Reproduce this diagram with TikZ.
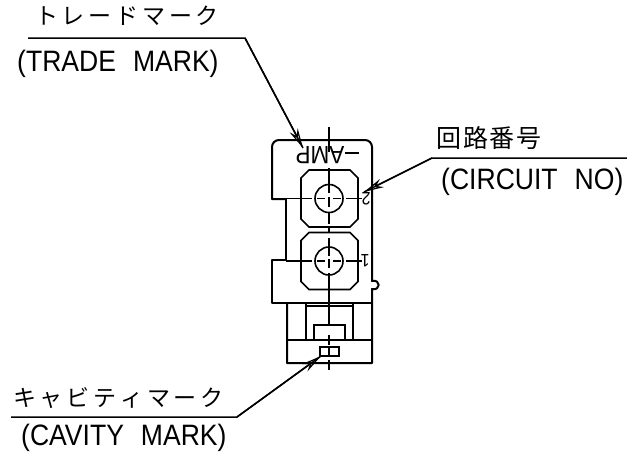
\documentclass[tikz,border=0pt]{standalone}
\usepackage{fontspec}
\setmainfont[FakeStretch=0.9]{Liberation Sans}
\newfontfamily\cjkf{Noto Sans CJK JP}
\usetikzlibrary{arrows.meta}
\newcommand{\jc}[1]{\makebox[26.8pt]{#1}}
\newcommand{\jd}[1]{\makebox[26.5pt]{#1}}
\tikzset{
  body/.style={line width=2pt,line join=round},
  thin part/.style={line width=1.6pt},
  heavy/.style={line width=2.8pt},
  cline/.style={line width=1.3pt},
  leader/.style={line width=1.5pt,-{Stealth[length=20pt,width=9pt,open,line width=1.2pt]}},
  shaft/.style={line width=1.5pt},
  latin/.style={inner sep=0pt,font=\fontsize{29.5}{30}\selectfont},
  jp/.style={inner sep=0pt,font=\cjkf\fontsize{23}{23}\selectfont},
  partmark/.style={inner sep=0pt,rotate=180}
}
\begin{document}
\begin{tikzpicture}[x=1pt,y=-1pt]
\useasboundingbox (0,0) rectangle (627,459);
% outer body
\draw[body] (286,199) -- (272,199) {[rounded corners=7pt] -- (272,140) -- (372,140) -- (372,200)} -- (372,281) .. controls (381,279) and (381,291) .. (372,289) -- (372,363) -- (287,363) -- (287,303);
\draw[body] (286,199) -- (286,260) -- (272,260) -- (272,303) -- (372,303);
% lower inserts
\draw[thin part] (287,340) -- (372,340);
\draw[heavy] (306,303) -- (306,340) (353,303) -- (353,340);
\draw[thin part] (306,306) -- (353,306);
\draw[thin part] (314,340) -- (314,325) -- (345,325) -- (345,340);
\draw[thin part] (320,347) rectangle (339,356);
% cavities
\foreach \cy/\n in {198.5/a,261/b}{
  \draw[thin part] (309,\cy-28.5) -- (350,\cy-28.5) -- (358,\cy-20.5) -- (358,\cy+20.5) -- (350,\cy+28.5) -- (309,\cy+28.5) -- (301,\cy+20.5) -- (301,\cy-20.5) -- cycle;
  \draw[thin part] (329,\cy) circle[radius=14];
  \draw[cline] (286,\cy) -- (312,\cy) (317,\cy) -- (325,\cy) (333,\cy) -- (341,\cy) (346,\cy) -- (362,\cy);
}
% vertical centre line
\draw[cline] (329,127) -- (329,152) (329,168) -- (329,193) (329,197) -- (329,207) (329,212) -- (329,224) (329,228) -- (329,233);
\draw[cline] (329,238) -- (329,256) (329,259) -- (329,268) (329,273) -- (329,325);
\draw[cline] (329,335) -- (329,345) (329,348) -- (329,356) (329,360) -- (329,370);
% part marks
\node[partmark,font=\fontsize{25}{25}\selectfont] (amp) at (320,155) {AMP};
\coordinate (dA) at (345,153); \coordinate (dB) at (359,153);
\draw[line width=1.5pt] (dA) -- (dB);
\node[partmark,font=\fontsize{18}{18}\selectfont] (n2) at (366,199) {2};
\node[partmark,font=\fontsize{18}{18}\selectfont] (n1) at (365,261) {1};
% labels
\node[jp,anchor=west] (t1) at (33,16) {\jc{ト}\jc{レ}\jc{ー}\jc{ド}\jc{マ}\jc{ー}\jc{ク}};
\node[latin,anchor=west] (t2) at (17,64) {(TRADE\hspace{17pt}MARK)};
\node[jp,anchor=west,font=\cjkf\fontsize{25}{25}\selectfont] (c1) at (436,138) {\jd{回}\jd{路}\jd{番}\jd{号}};
\node[latin,anchor=west] (c2) at (441,182) {(CIRCUIT\hspace{17pt}NO)};
\node[jp,anchor=west] (k1) at (11,398) {\jc{キ}\jc{ャ}\jc{ビ}\jc{テ}\jc{ィ}\jc{マ}\jc{ー}\jc{ク}};
\node[latin,anchor=west] (k2) at (21,438) {(CAVITY\hspace{17pt}MARK)};
% leaders
\coordinate (l1s) at (28,38); \coordinate (l1k) at (245,38); \coordinate (l1t) at (303,148);
\coordinate (l2s) at (627,158); \coordinate (l2k) at (432,158); \coordinate (l2t) at (364,192);
\coordinate (l3s) at (11,417); \coordinate (l3k) at (237,417); \coordinate (l3t) at (321,356);
\draw[leader] (l1s) -- (l1k) -- (l1t);
\draw[leader] (l2s) -- (l2k) -- (l2t);
\draw[leader] (l3s) -- (l3k) -- (l3t);
\draw[shaft] (l1k) -- (l1t) (l2k) -- (l2t) (l3k) -- (l3t);
\end{tikzpicture}
\end{document}
